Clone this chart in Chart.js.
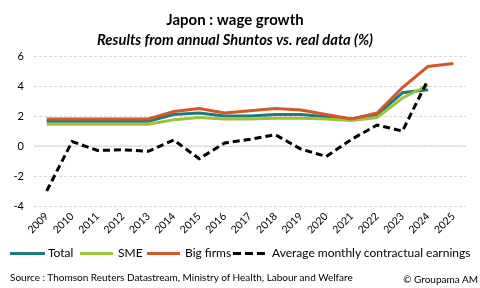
<!DOCTYPE html>
<html><head><meta charset="utf-8">
<script src="https://cdn.jsdelivr.net/npm/chart.js@4/dist/chart.umd.min.js"></script>
<style>
html,body{margin:0;padding:0;background:#fff;}
#wrap{position:relative;width:480px;height:288px;}
#src{position:absolute;left:10px;top:271px;font:10px Lato,sans-serif;color:#000;white-space:nowrap;}
#copy{position:absolute;right:2px;top:273px;font:10px Lato,sans-serif;color:#000;white-space:nowrap;}
.lg{position:absolute;height:0;top:252px;}
.lt{position:absolute;top:244px;font:12px Lato,sans-serif;color:#000;white-space:nowrap;line-height:18px;}
</style></head>
<body>
<div id="wrap"><canvas id="c" width="480" height="288"></canvas>
<div id="legend"></div>
<div id="src">Source : Thomson Reuters Datastream, Ministry of Health, Labour and Welfare</div>
<div id="copy">© Groupama AM</div>
</div>
<script>
const years = ['2009','2010','2011','2012','2013','2014','2015','2016','2017','2018','2019','2020','2021','2022','2023','2024','2025'];
const total = [1.65,1.65,1.65,1.65,1.65,2.1,2.2,2.0,2.0,2.1,2.1,1.95,1.8,2.1,3.55,3.75,null];
const sme = [1.45,1.45,1.45,1.45,1.45,1.75,1.9,1.8,1.8,1.85,1.85,1.8,1.7,1.9,3.2,4.05,null];
const bigFirms = [1.8,1.8,1.8,1.8,1.8,2.3,2.5,2.2,2.35,2.5,2.4,2.1,1.8,2.2,3.9,5.3,5.5];
const avgEarnings = [-3.0,0.3,-0.3,-0.25,-0.35,0.4,-0.85,0.2,0.45,0.75,-0.2,-0.7,0.45,1.4,1.0,4.4,null];
const yTicks = [6,4,2,0,-2,-4];
const seriesNames = ['Total','SME','Big firms','Average monthly contractual earnings'];
const seriesColors = ['#1E7B78','#9DC13B','#D4562A','#000000'];

const zeroLine = {
  id:'zeroLine',
  beforeDatasetsDraw(chart){
    const {ctx, chartArea, scales} = chart;
    const y = scales.y.getPixelForValue(0);
    ctx.save();
    ctx.strokeStyle = '#D9D9D9';
    ctx.lineWidth = 1;
    ctx.beginPath();
    ctx.moveTo(chartArea.left, y);
    ctx.lineTo(chartArea.right, y);
    ctx.stroke();
    ctx.restore();
  }
};

const chart = new Chart(document.getElementById('c'), {
  type:'line',
  data:{
    labels: years,
    datasets:[
      {label:seriesNames[0], data: total, borderColor:seriesColors[0], backgroundColor:seriesColors[0], borderWidth:3, order:4},
      {label:seriesNames[1], data: sme, borderColor:seriesColors[1], backgroundColor:seriesColors[1], borderWidth:3, order:3},
      {label:seriesNames[2], data: bigFirms, borderColor:seriesColors[2], backgroundColor:seriesColors[2], borderWidth:3, order:2},
      {label:seriesNames[3], data: avgEarnings, borderColor:seriesColors[3], backgroundColor:seriesColors[3], borderWidth:3, borderDash:[7,4], order:1}
    ]
  },
  options:{
    responsive:false,
    animation:false,
    elements:{point:{radius:0}, line:{tension:0, borderCapStyle:'butt'}},
    layout:{padding:{left:4, right:14, top:0, bottom:46}},
    plugins:{
      title:{display:true, text:'Japon : wage growth', color:'#000', font:{family:'Lato', size:15, weight:'bold', lineHeight:1.2}, padding:{top:11, bottom:2}},
      subtitle:{display:true, text:'Results from annual Shuntos vs. real data (%)', color:'#000', font:{family:'Lato', size:14.7, weight:'bold', style:'italic', lineHeight:1.2}, padding:{top:0, bottom:7.4}},
      legend:{display:false},
      tooltip:{enabled:false}
    },
    scales:{
      x:{
        offset:true,
        grid:{display:false, drawTicks:false, offset:true},
        border:{display:false},
        ticks:{color:'#000', font:{family:'Lato', size:10.5}, minRotation:45, maxRotation:45, padding:4},
        afterFit(s){ s.height = 36; }
      },
      y:{
        min:-4, max:6,
        afterBuildTicks(s){ s.ticks = yTicks.map(v=>({value:v})); },
        grid:{color:'#D9D9D9', drawTicks:false, lineWidth:1},
        border:{display:false, dash:[3,2]},
        ticks:{color:'#000', font:{family:'Lato', size:11}, padding:10},
        afterFit(s){ s.width = 30; }
      }
    }
  },
  plugins:[zeroLine]
});

// HTML legend built from the dataset definitions
const legendPos = [[10,35,48],[80,33,118],[147,33,185],[233,32,272]];
const lg = document.getElementById('legend');
chart.data.datasets.forEach((ds,i)=>{
  const [lx,lw,tx] = legendPos[i];
  const line = document.createElement('div');
  line.className='lg';
  line.style.left = lx+'px';
  line.style.width = lw+'px';
  if (ds.borderDash){
    line.style.height='3px';
    line.style.background='repeating-linear-gradient(90deg,'+ds.borderColor+' 0 8px,transparent 8px 12px)';
  } else {
    line.style.borderTop='3px solid '+ds.borderColor;
  }
  lg.appendChild(line);
  const t = document.createElement('div');
  t.className='lt';
  t.style.left = tx+'px';
  t.textContent = ds.label;
  lg.appendChild(t);
});
</script>
</body></html>
